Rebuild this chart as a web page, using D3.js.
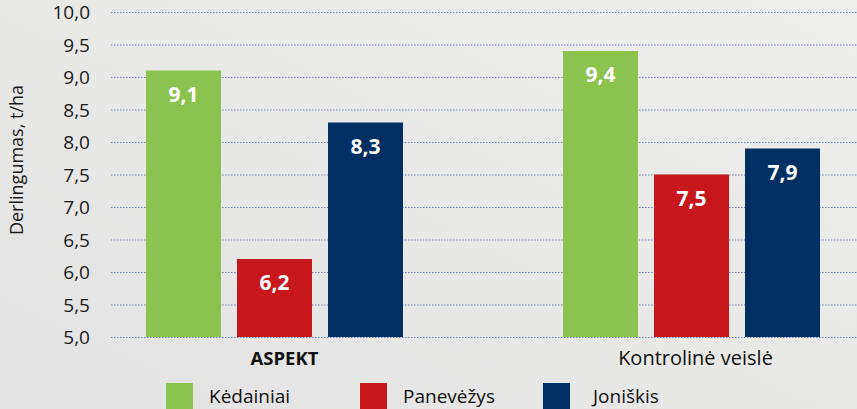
<!DOCTYPE html>
<html>
<head>
<meta charset="utf-8">
<script src="https://cdn.jsdelivr.net/npm/d3@7"></script>
<style>
  body { margin: 0; overflow: hidden; }
  svg { display: block; font-family: "Open Sans", sans-serif; }
</style>
</head>
<body>
<script>
const width = 857;
const height = 409;

// data
const groups = ['ASPEKT', 'Kontrolinė veislė'];
const series = ['Kėdainiai', 'Panevėžys', 'Joniškis'];
const aspektValues = [9.1, 6.2, 8.3];
const kontrolValues = [9.4, 7.5, 7.9];
const colors = ['#8bc34f', '#c8161d', '#003063'];
const yTicks = [5, 5.5, 6, 6.5, 7, 7.5, 8, 8.5, 9, 9.5, 10];

const rows = [aspektValues, kontrolValues];

const svg = d3.select('body').append('svg')
  .attr('width', width)
  .attr('height', height);

// soft grey background
const defs = svg.append('defs');
const grad = defs.append('linearGradient').attr('id', 'bg')
  .attr('x1', '0').attr('y1', '1').attr('x2', '1').attr('y2', '0');
grad.append('stop').attr('offset', '0').attr('stop-color', '#e3e3e3');
grad.append('stop').attr('offset', '1').attr('stop-color', '#eeeeec');
svg.append('rect').attr('width', width).attr('height', height).attr('fill', 'url(#bg)');

const y = d3.scaleLinear().domain([5, 10]).range([337, 12]);
const x0 = d3.scaleBand().domain(groups).range([66, 900]);
const x1 = d3.scaleBand().domain(series).range([-128.5, 128.5]).paddingInner(0.176);

// gridlines
svg.append('g').selectAll('line')
  .data(yTicks)
  .enter().append('line')
  .attr('x1', 111).attr('x2', width)
  .attr('y1', d => y(d) + 0.5).attr('y2', d => y(d) + 0.5)
  .attr('stroke', '#6f7fb3')
  .attr('stroke-width', 1)
  .attr('stroke-dasharray', '1.5,1.5');

// y axis labels
svg.append('g').selectAll('text')
  .data(yTicks)
  .enter().append('text')
  .attr('x', 90)
  .attr('y', d => y(d) + 7)
  .attr('text-anchor', 'end')
  .attr('font-size', 19)
  .attr('fill', '#1a1a1a')
  .text(d => d.toFixed(1).replace('.', ','));

svg.append('text')
  .attr('transform', 'translate(23,160) rotate(-90)')
  .attr('text-anchor', 'middle')
  .attr('font-size', 18)
  .attr('fill', '#1a1a1a')
  .text('Derlingumas, t/ha');

// bars
const g = svg.append('g');
rows.forEach((vals, gi) => {
  const cx = x0(groups[gi]) + x0.bandwidth() / 2;
  const grp = g.append('g').attr('transform', 'translate(' + cx + ',0)');
  grp.selectAll('rect')
    .data(vals)
    .enter().append('rect')
    .attr('x', (d, i) => x1(series[i]))
    .attr('width', x1.bandwidth())
    .attr('y', d => y(d))
    .attr('height', d => y(5) - y(d))
    .attr('fill', (d, i) => colors[i]);
  grp.selectAll('text')
    .data(vals)
    .enter().append('text')
    .attr('x', (d, i) => x1(series[i]) + x1.bandwidth() / 2)
    .attr('y', d => y(d) + 31)
    .attr('text-anchor', 'middle')
    .attr('font-size', 21)
    .attr('font-weight', 'bold')
    .attr('fill', '#ffffff')
    .text(d => d.toFixed(1).replace('.', ','));
});

// category labels
svg.append('g').selectAll('text')
  .data(groups)
  .enter().append('text')
  .attr('x', d => x0(d) + x0.bandwidth() / 2)
  .attr('dx', (d, i) => i === 0 ? 10 : 4)
  .attr('y', 365)
  .attr('text-anchor', 'middle')
  .attr('font-size', (d, i) => i === 0 ? 18.5 : 20)
  .attr('font-weight', (d, i) => i === 0 ? 'bold' : 'normal')
  .attr('fill', '#111')
  .text(d => d);

// legend
const legendX = [166, 360, 543];
const legend = svg.append('g').selectAll('g')
  .data(series)
  .enter().append('g')
  .attr('transform', (d, i) => 'translate(' + legendX[i] + ',383)');
legend.append('rect')
  .attr('width', 27).attr('height', 27)
  .attr('fill', (d, i) => colors[i]);
legend.append('text')
  .attr('x', (d, i) => i === 2 ? 50 : 43)
  .attr('y', 20)
  .attr('font-size', 19)
  .attr('fill', '#111')
  .text(d => d);
</script>
</body>
</html>
